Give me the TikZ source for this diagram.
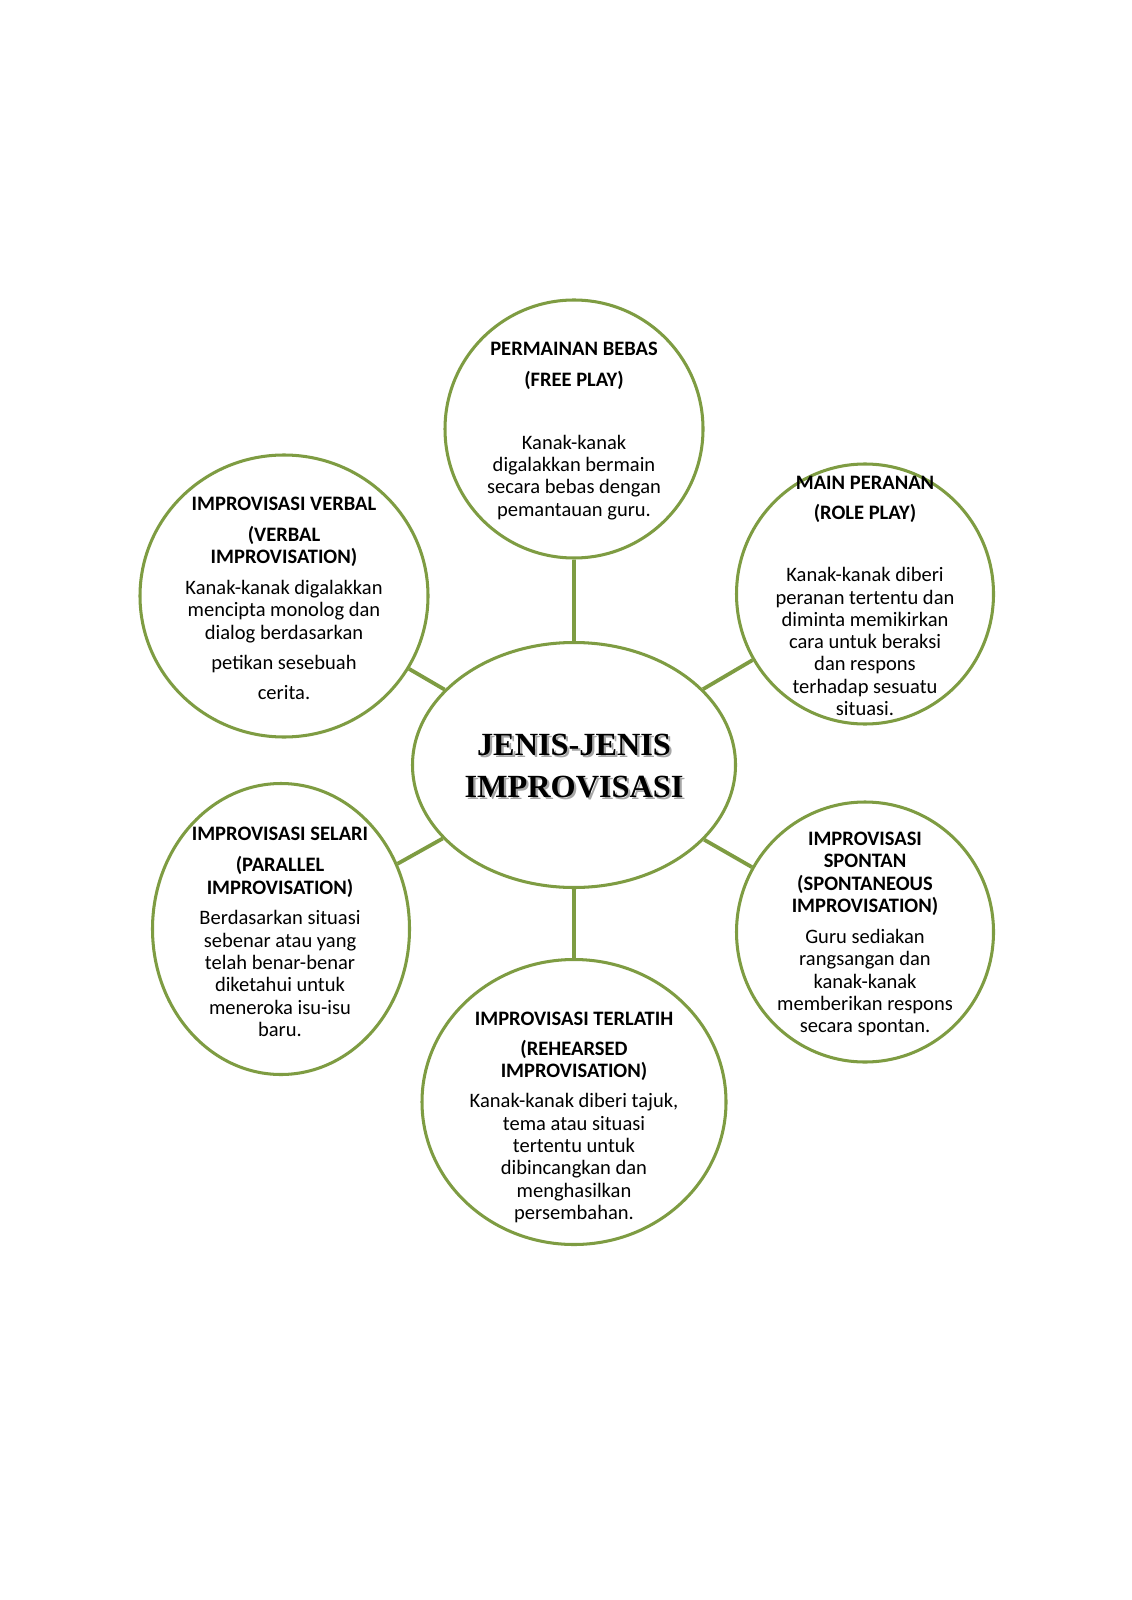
\documentclass[tikz,border=0pt]{standalone}
\usepackage{fontspec}
\setmainfont{Carlito}
\newfontfamily\titlefont{Liberation Serif}
\usepackage{tikz}
\usetikzlibrary{shapes.geometric}
\definecolor{leaf}{HTML}{7E9C42}
\newcommand{\px}{0.5263pt}
\newcommand{\shade}[1]{\makebox[0pt][l]{\kern1.2pt\raisebox{-1.2pt}{\color{gray!70}#1}}#1}
\begin{document}
\begin{tikzpicture}[
  x=0.5263pt, y=-0.5263pt,
  font=\fontsize{10.8}{11.75}\selectfont,
  bub/.style={ellipse,draw=leaf,line width=1.6pt,inner sep=0pt},
  txt/.style={align=center,inner sep=0pt},
  link/.style={draw=leaf,line width=2pt}
]
\fill[white] (0,0) rectangle (1131,1600);
\useasboundingbox (0,0) rectangle (1131,1600);
% bubbles
\node[bub,minimum width=323*\px,minimum height=245*\px] (hub) at (574,765) {};
\node[bub,minimum width=258*\px,minimum height=258*\px] (free) at (574,429) {};
\node[bub,minimum width=257*\px,minimum height=260*\px] (role) at (865,594) {};
\node[bub,minimum width=288*\px,minimum height=282*\px] (verbal) at (284,596) {};
\node[bub,minimum width=257*\px,minimum height=291*\px] (parallel) at (281,929) {};
\node[bub,minimum width=257*\px,minimum height=260*\px] (spont) at (865,932) {};
\node[bub,minimum width=304*\px,minimum height=285*\px] (rehearsed) at (574,1102) {};
% links
\draw[link] (hub) -- (free);
\draw[link] (hub) -- (role);
\draw[link] (hub) -- (verbal);
\draw[link] (hub) -- (parallel);
\draw[link] (hub) -- (spont);
\draw[link] (hub) -- (rehearsed);
% texts
\node[txt,font=\titlefont\bfseries\fontsize{17}{22}\selectfont] (hubtxt) at (574,767)
  {\shade{JENIS-JENIS}\\\shade{IMPROVISASI}};
\node[txt] (freetxt) at (574,431)
  {\textbf{PERMAINAN BEBAS}\\[4.5pt]\textbf{(FREE PLAY)}\\[21pt]
   Kanak-kanak\\digalakkan bermain\\secara bebas dengan\\pemantauan guru.};
\node[txt] (roletxt) at (865,596)
  {\textbf{MAIN PERANAN}\\[4pt]\textbf{(ROLE PLAY)}\\[21pt]
   Kanak-kanak diberi\\peranan tertentu dan\\diminta memikirkan\\cara untuk beraksi\\
   dan respons\\terhadap sesuatu\\situasi.};
\node[txt] (verbaltxt) at (284,598.5)
  {\textbf{IMPROVISASI VERBAL}\\[4.5pt]\textbf{(VERBAL}\\\textbf{IMPROVISATION)}\\[4.5pt]
   Kanak-kanak digalakkan\\mencipta monolog dan\\dialog berdasarkan\\[4pt]
   petikan sesebuah\\[4.5pt]cerita.};
\node[txt] (paralleltxt) at (280,932)
  {\textbf{IMPROVISASI SELARI}\\[4.5pt]\textbf{(PARALLEL}\\\textbf{IMPROVISATION)}\\[4.5pt]
   Berdasarkan situasi\\sebenar atau yang\\telah benar-benar\\diketahui untuk\\
   meneroka isu-isu\\baru.};
\node[txt] (sponttxt) at (865,934)
  {\textbf{IMPROVISASI}\\\textbf{SPONTAN}\\\textbf{(SPONTANEOUS}\\\textbf{IMPROVISATION)}\\[4.5pt]
   Guru sediakan\\rangsangan dan\\kanak-kanak\\memberikan respons\\secara spontan.};
\node[txt] (rehearsedtxt) at (574,1117.5)
  {\textbf{IMPROVISASI TERLATIH}\\[4pt]\textbf{(REHEARSED}\\\textbf{IMPROVISATION)}\\[4pt]
   Kanak-kanak diberi tajuk,\\tema atau situasi\\tertentu untuk\\dibincangkan dan\\
   menghasilkan\\persembahan.};
\end{tikzpicture}
\end{document}
